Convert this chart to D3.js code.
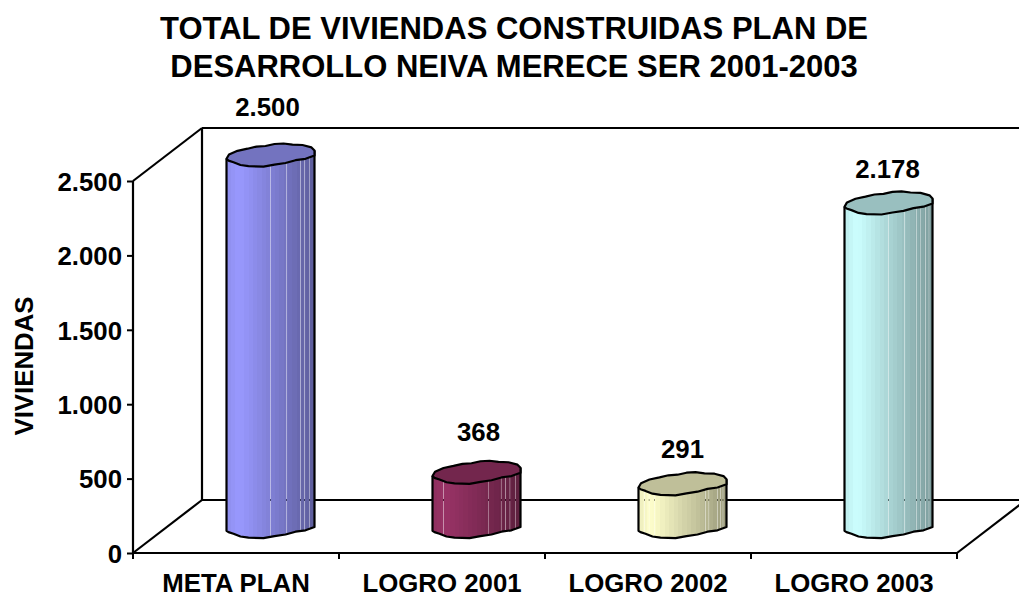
<!DOCTYPE html>
<html><head><meta charset="utf-8">
<script src="https://cdnjs.cloudflare.com/ajax/libs/d3/7.8.5/d3.min.js"></script>
<style>html,body{margin:0;background:#fff}svg{display:block}text{font-family:"Liberation Sans",Arial,sans-serif;font-weight:bold;fill:#000}</style>
</head><body><script>
const categories=["META PLAN","LOGRO 2001","LOGRO 2002","LOGRO 2003"];
const values=[2500,368,291,2178];
const valueLabels=["2.500","368","291","2.178"];
const yTicks=[0,500,1000,1500,2000,2500];
const titleLines=["TOTAL DE VIVIENDAS CONSTRUIDAS PLAN DE","DESARROLLO NEIVA MERECE SER 2001-2003"];
const yTitle="VIVIENDAS";
const baseColors=["#9999ff","#993366","#ffffcc","#ccffff"];
const topColors=["#7373bf","#73264d","#bfbf99","#99bfbf"];
const seams=[[.5,.68,.84,.885,.94],[.125,.64,.78,.83,.88,.94],[.07,.12,.185,.76,.8,.9,.93,.96],[.5,.68,.82,.86,.92,.96]];
const labelGaps=[48,40,35,34];
const labelShift=[-3,2,0,-1];
const capUpper=[[-44,3.8],[-41.5,-0.5],[-33,-4.2],[-23,-6.3],[-14,-8.4],[-5,-9],[4,-11],[13,-11.5],[22,-10.4],[32,-10],[41,-7.6],[44,-4.5]];
const capLower=[[44,0.5],[35,3.8],[25,5.2],[15,8],[4,9.6],[-7,11.6],[-22,11.2],[-30,10],[-37,7.2],[-42,5.6]];

const W=1019,H=595,x0=133,x1=957,y0=553,y1=181,dx=69,dy=53;
const svg=d3.select("body").append("svg").attr("width",W).attr("height",H);
const defs=svg.append("defs");
const x=d3.scaleBand().domain(categories).range([x0,x1]);
const y=d3.scaleLinear().domain([0,2500]).range([y0,y1]);
const frame=svg.append("g").attr("fill","none").attr("stroke","#000").attr("stroke-width",2.2);
const seg=(a,b,c,d)=>frame.append("line").attr("x1",a).attr("y1",b).attr("x2",c).attr("y2",d);
seg(x0+dx,y1-dy,W,y1-dy);seg(x0+dx,y1-dy,x0+dx,y0-dy);seg(x0+dx,y0-dy,W,y0-dy);
seg(x0,y1,x0+dx,y1-dy);seg(x0,y0,x0+dx,y0-dy);seg(x0,y1,x0,y0);seg(x0,y0,x1,y0);
seg(x1,y0,x1+dx,y0-dy);

const axisY=d3.axisLeft(y).tickValues(yTicks).tickSize(6).tickPadding(5).tickFormat(d=>d3.format(",")(d).replace(/,/g,"."));
const gy=svg.append("g").attr("transform",`translate(${x0},0)`).call(axisY);
gy.select(".domain").remove();
gy.selectAll("line").attr("stroke","#000").attr("stroke-width",2);
gy.selectAll("text").style("font-size","25.8px").attr("font-family",null).attr("dy","0.36em");
const axisX=d3.axisBottom(x).tickSize(0).tickPadding(21);
const gx=svg.append("g").attr("transform",`translate(0,${y0})`).call(axisX);
gx.select(".domain").remove();
gx.selectAll("text").style("font-size","25.8px").attr("font-family",null);
const xTickPos=[...categories.map(c=>x(c)),x1];
svg.append("g").selectAll("line").data(xTickPos).join("line").attr("x1",d=>d).attr("x2",d=>d).attr("y1",y0).attr("y2",y0+6).attr("stroke","#000").attr("stroke-width",2);

const a=44,depthX=dx/2,depthY=26;
const line=d3.line().curve(d3.curveLinear);
const mix=(c,k)=>{const r=d3.rgb(c);return d3.rgb(r.r*k,r.g*k,r.b*k).formatRgb();};

categories.forEach((c,i)=>{
  const cx=x(c)+x.bandwidth()/2+depthX,by=y(0)-depthY,ty=y(values[i])-depthY;
  const left=cx-a,right=cx+a;
  const g=svg.append("g");
  const at=(cy)=>([px,py])=>[cx+px,cy+py];
  const bodyPts=[at(ty)(capUpper[0]),at(by)(capUpper[0]),...capLower.slice().reverse().map(at(by-.5)),at(by-.5)(capUpper[capUpper.length-1]),at(ty)(capUpper[capUpper.length-1])];
  const id="clip"+i,gid="grad"+i;
  defs.append("clipPath").attr("id",id).append("path").attr("d",line(bodyPts)+"Z");
  const gr=defs.append("linearGradient").attr("id",gid).attr("gradientUnits","userSpaceOnUse").attr("x1",left).attr("x2",right).attr("y1",0).attr("y2",0);
  const N=20;
  d3.range(N).forEach(n=>{
    const f=n/N;const k=f<.12?.94+f*.5:1-(f-.12)*.46;
    const col=mix(baseColors[i],Math.min(1,k));
    gr.append("stop").attr("offset",f).attr("stop-color",col);
    gr.append("stop").attr("offset",(n+1)/N).attr("stop-color",col);
  });
  const edges=[0,...seams[i],1];
  const body=g.append("g").attr("clip-path",`url(#${id})`);
  d3.pairs(edges).forEach(([p,q])=>{
    const xa=left+p*2*a+(p>0?.18:-2),xb=left+q*2*a-(q<1?.18:-2);
    body.append("rect").attr("x",xa).attr("width",xb-xa).attr("y",ty-20).attr("height",by-ty+50).attr("fill",`url(#${gid})`);
  });
  g.append("path").attr("d",line(bodyPts)).attr("fill","none").attr("stroke","#000").attr("stroke-width",2.2).attr("stroke-linejoin","round");
  const topPts=[...capUpper,...capLower].map(at(ty));
  g.append("path").attr("d",line(topPts)+"Z").attr("fill",topColors[i]).attr("stroke","#000").attr("stroke-width",2.2).attr("stroke-linejoin","round");
  svg.append("text").attr("x",cx+labelShift[i]).attr("y",ty-labelGaps[i]+9).attr("text-anchor","middle").style("font-size","25.8px").text(valueLabels[i]);
});

svg.append("g").selectAll("text").data(titleLines).join("text")
  .attr("x",514).attr("y",(d,i)=>39+i*38).attr("text-anchor","middle").style("font-size","31px").text(d=>d);
svg.append("text").attr("transform","translate(33,366) rotate(-90)").attr("text-anchor","middle").style("font-size","25.8px").text(yTitle);
</script></body></html>
